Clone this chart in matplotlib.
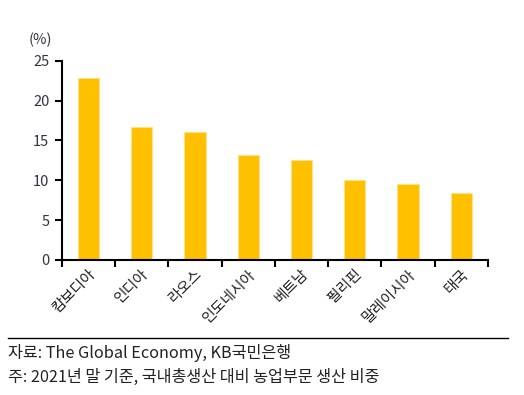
import matplotlib
matplotlib.use('Agg')
import matplotlib.pyplot as plt
import numpy as np

plt.rcParams['font.family'] = ['Noto Sans CJK KR', 'DejaVu Sans']

# data
countries = ['캄보디아', '인디아', '라오스', '인도네시아', '베트남', '필리핀', '말레이시아', '태국']
share = [22.8, 16.75, 16.0, 13.2, 12.5, 10.0, 9.5, 8.4]
yticks = [0, 5, 10, 15, 20, 25]

fig = plt.figure(figsize=(5.24, 3.95), dpi=100)
ax = fig.add_axes([0.118, 0.342, 0.813, 0.504])

x = np.arange(len(countries))
ax.bar(x, share, width=0.4, color='#FFC000', edgecolor='#FFE08A', linewidth=0.8)

ax.set_xlim(-0.5, len(countries) - 0.5)
ax.set_ylim(0, 25)
ax.set_yticks(yticks)
ax.set_yticklabels([str(v) for v in yticks], fontsize=10.5, color='#333344')

# category boundary ticks on x
ax.set_xticks(np.arange(len(countries) + 1) - 0.5)
ax.set_xticklabels([])
ax.set_xticks(x, minor=True)
ax.set_xticklabels(countries, minor=True, rotation=45, ha='right', va='top',
                   rotation_mode='anchor', fontsize=10.7, color='#222222')
ax.tick_params(axis='x', which='minor', length=0, pad=5)
ax.tick_params(axis='x', which='major', direction='out', length=5, width=1.5)
ax.tick_params(axis='y', direction='out', length=5, width=1.5, pad=4)

for s in ['top', 'right']:
    ax.spines[s].set_visible(False)
for s in ['left', 'bottom']:
    ax.spines[s].set_linewidth(1.5)
    ax.spines[s].set_color('black')

fig.text(0.078, 0.899, '(%)', fontsize=10.5, color='#333344', ha='center', va='center')

# footer
fig.add_artist(plt.Line2D([0.015, 0.97], [0.144, 0.144], color='black', linewidth=1.0))
fig.text(0.015, 0.107, '자료: The Global Economy, KB국민은행', fontsize=11.7, color='#222222',
         ha='left', va='center')
fig.text(0.015, 0.044, '주: 2021년 말 기준, 국내총생산 대비 농업부문 생산 비중', fontsize=11.7,
         color='#222222', ha='left', va='center')

fig.savefig('out.png', dpi=100)
